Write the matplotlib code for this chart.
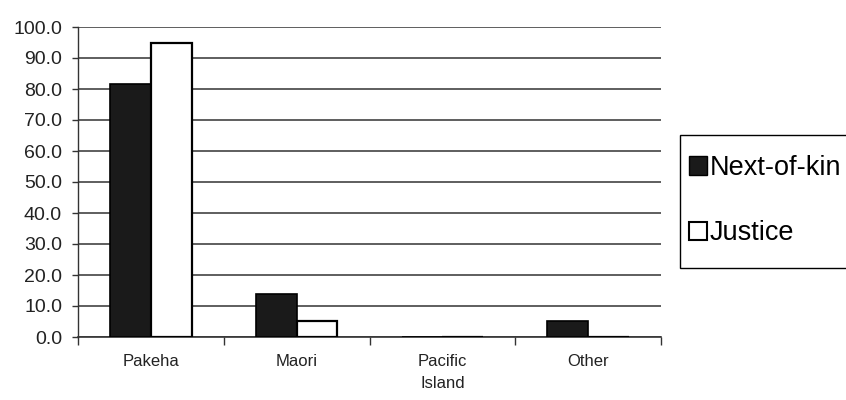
import numpy as np
import matplotlib
matplotlib.use("Agg")
import matplotlib.pyplot as plt
from matplotlib.patches import Patch, Rectangle

plt.rcParams['font.family'] = ['Liberation Sans', 'DejaVu Sans']

# Ethnicity breakdown (%) for next-of-kin vs justice sample
categories = ['Pakeha', 'Maori', 'Pacific\nIsland', 'Other']
next_of_kin = [81.5, 13.8, 0.0, 5.1]
justice = [95.0, 5.2, 0.0, 0.0]
yticks = np.arange(0, 101, 10)

W, H = 846, 400
fig = plt.figure(figsize=(W / 100, H / 100), dpi=100)
ax = fig.add_axes([78 / W, 1 - 337 / H, (661 - 78) / W, (337 - 27) / H])

x = np.arange(len(categories))
w = 0.28
ax.bar(x - w / 2, next_of_kin, w, color='#1a1a1a', edgecolor='black', linewidth=1.2, zorder=3)
ax.bar(x + w / 2, justice, w, color='white', edgecolor='black', linewidth=1.6, zorder=3)

ax.set_xlim(-0.5, len(categories) - 0.5)
ax.set_ylim(0, 100)
ax.set_yticks(yticks)
ax.set_yticklabels([f'{v:.1f}' for v in yticks], fontsize=14, color='#222222')
ax.yaxis.grid(True, color='#333333', linewidth=1.1, zorder=0)
ax.set_axisbelow(True)

ax.set_xticks(x)
ax.set_xticklabels(categories, fontsize=12, linespacing=1.6, color='#222222')
ax.set_xticks(np.arange(-0.5, len(categories)), minor=True)
ax.tick_params(axis='x', which='major', length=0, pad=12)
ax.tick_params(axis='x', which='minor', length=6, width=1, direction='out', color='#333333')
ax.tick_params(axis='y', length=4.5, width=1, color='#333333', pad=7)

for side in ['top', 'right']:
    ax.spines[side].set_visible(False)
ax.spines['left'].set_color('#333333')
ax.spines['bottom'].set_color('#333333')
ax.spines['left'].set_linewidth(1)
ax.spines['bottom'].set_linewidth(1.2)

# legend frame runs off the right edge of the figure
fig.patches.append(Rectangle((680 / W, 1 - 268 / H), 200 / W, 133 / H,
                             transform=fig.transFigure, facecolor='white',
                             edgecolor='black', linewidth=1))

handles = [Patch(facecolor='#1a1a1a', edgecolor='black', label='Next-of-kin'),
           Patch(facecolor='white', edgecolor='black', linewidth=1.5, label='Justice')]
fig.legend(handles=handles, loc='upper left', bbox_to_anchor=(689 / W, 1 - 155 / H),
           fontsize=19.5, frameon=False,
           handlelength=0.65, handleheight=0.65, handletextpad=0.12,
           labelspacing=1.45, borderpad=0, borderaxespad=0)

fig.savefig('out.png', dpi=100)
